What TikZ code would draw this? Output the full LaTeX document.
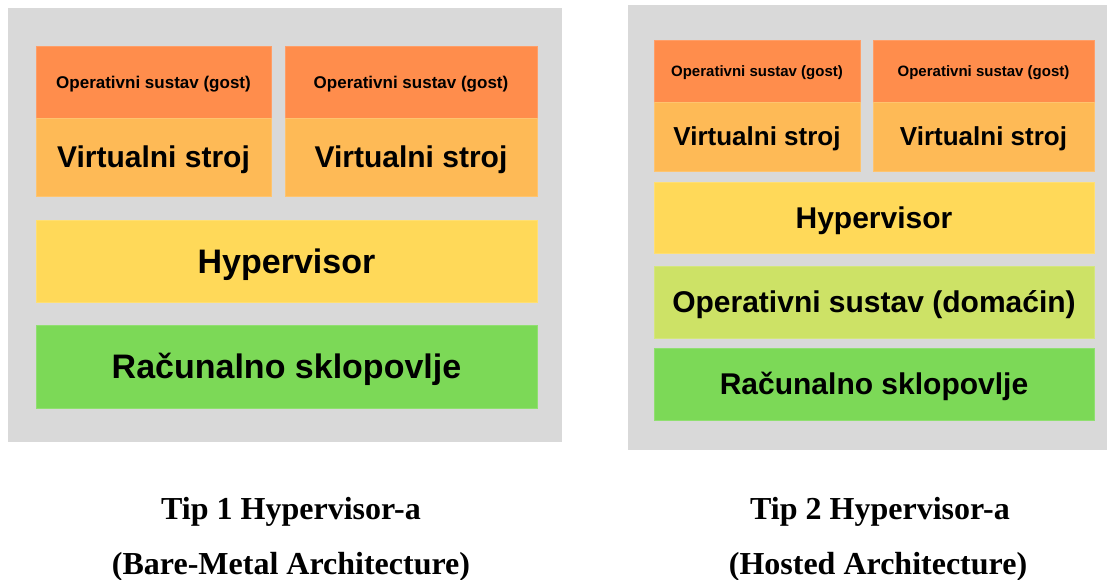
\documentclass[tikz,border=0pt]{standalone}
\usepackage{fontspec}
\setmainfont{Liberation Serif}
\newfontfamily\boxfont{Liberation Sans}
\definecolor{bggray}{RGB}{217,217,217}
\definecolor{oscol}{RGB}{255,141,76}
\definecolor{vmcol}{RGB}{254,186,86}
\definecolor{hypcol}{RGB}{255,217,89}
\definecolor{hostcol}{RGB}{205,226,102}
\definecolor{hwcol}{RGB}{124,217,87}
\tikzset{
  layer/.style={rectangle, inner sep=0pt, outer sep=0pt, draw=#1!85!white, line width=0.6pt, fill=#1, text=black},
  fs/.style={font=\boxfont\bfseries\fontsize{#1}{#1}\selectfont, text height={0.72*#1pt}, text depth=0pt},
  caption/.style={anchor=base, inner sep=0pt, font=\bfseries\fontsize{32}{32}\selectfont}
}
\begin{document}
\begin{tikzpicture}[x=1pt,y=-1pt]
\useasboundingbox (0,0) rectangle (1107,580);
% backgrounds
\fill[bggray] (8,8) rectangle (562,442);
\fill[bggray] (628,5) rectangle (1107,450);
% left panel
\node[layer=oscol, fs=17, minimum width=235, minimum height=72] (osa) at (153.5,82) {Operativni sustav (gost)};
\node[layer=vmcol, fs=30, minimum width=235, minimum height=78] (vma) at (153.5,157) {Virtualni stroj};
\node[layer=oscol, fs=17, minimum width=252, minimum height=72] (osb) at (411,82) {Operativni sustav (gost)};
\node[layer=vmcol, fs=30, minimum width=252, minimum height=78] (vmb) at (411,157) {Virtualni stroj};
\node[layer=hypcol, fs=34, minimum width=501, minimum height=82] (hypa) at (286.5,261) {Hypervisor};
\node[layer=hwcol, fs=34, minimum width=501, minimum height=83] (hwa) at (286.5,366.5) {Računalno sklopovlje};
% right panel
\node[layer=oscol, fs=15, minimum width=206, minimum height=62] (osc) at (757,71) {Operativni sustav (gost)};
\node[layer=vmcol, fs=26, minimum width=206, minimum height=69] (vmc) at (757,136.5) {Virtualni stroj};
\node[layer=oscol, fs=15, minimum width=221, minimum height=62] (osd) at (983.5,71) {Operativni sustav (gost)};
\node[layer=vmcol, fs=26, minimum width=221, minimum height=69] (vmd) at (983.5,136.5) {Virtualni stroj};
\node[layer=hypcol, fs=30, minimum width=440, minimum height=71] (hypb) at (874,217.5) {Hypervisor};
\node[layer=hostcol, fs=30, minimum width=440, minimum height=72] (host) at (874,302) {Operativni sustav (domaćin)};
\node[layer=hwcol, fs=30, minimum width=440, minimum height=72] (hwb) at (874,384) {Računalno sklopovlje};
% captions
\node[caption] (capa1) at (291,519) {Tip 1 Hypervisor-a};
\node[caption] (capa2) at (291,574) {(Bare-Metal Architecture)};
\node[caption] (capb1) at (880,519) {Tip 2 Hypervisor-a};
\node[caption] (capb2) at (878,574) {(Hosted Architecture)};
\end{tikzpicture}
\end{document}
